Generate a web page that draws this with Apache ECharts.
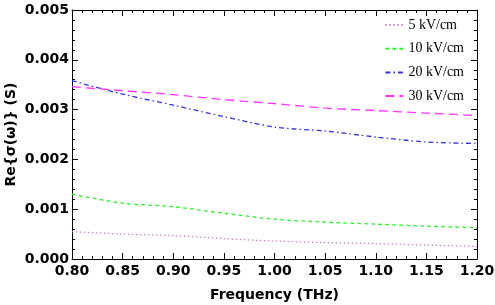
<!DOCTYPE html>
<html><head><meta charset="utf-8">
<script src="https://cdn.jsdelivr.net/npm/echarts@6/dist/echarts.min.js"></script>
<style>html,body{margin:0;padding:0;background:#fff}#c{width:495px;height:305px}</style>
</head><body><div id="c"></div>
<script>
const freq = [0.80, 0.85, 0.90, 0.95, 1.00, 1.05, 1.10, 1.15, 1.20];
const s5  = [0.00055, 0.00050, 0.00047, 0.00041, 0.00036, 0.00033, 0.00031, 0.00028, 0.00025];
const s10 = [0.00130, 0.00112, 0.00105, 0.00092, 0.00080, 0.00074, 0.00070, 0.00066, 0.00063];
const s20 = [0.00358, 0.00331, 0.00309, 0.00286, 0.00265, 0.00257, 0.00245, 0.00235, 0.00232];
const s30 = [0.00346, 0.00338, 0.00330, 0.00320, 0.00312, 0.00303, 0.00298, 0.00293, 0.00288];
const names = ['5 kV/cm', '10 kV/cm', '20 kV/cm', '30 kV/cm'];
const colors = ['#cc80cc', '#33ee33', '#3333dd', '#ff33ff'];
const dashes = [[1.5, 2.5], [4, 3], [5, 3, 1.5, 3], [9, 5]];

const chart = echarts.init(document.getElementById('c'), null, {renderer: 'canvas'});
const lbl = {fontFamily: 'DejaVu Sans', fontWeight: 'bold', fontSize: 14, color: '#000'};
function mk(arr) { return freq.map((f, i) => [f, arr[i]]); }
const all = [s5, s10, s20, s30];
const axisCommon = {
  axisLine: {show: true, onZero: false, lineStyle: {color: '#000', width: 1}},
  axisTick: {show: true, inside: true, length: 6, lineStyle: {color: '#000'}},
  minorTick: {show: true, splitNumber: 5, length: 3, lineStyle: {color: '#000'}},
  splitLine: {show: false}
};
chart.setOption({
  animation: false,
  grid: {left: 72, right: 18, top: 10, bottom: 46, containLabel: false, outerBoundsMode: 'none'},
  legend: {
    orient: 'vertical', right: 26, top: 13, itemWidth: 18, itemHeight: 14, itemGap: 9.7,
    itemStyle: {opacity: 0},
    textStyle: {fontFamily: 'Liberation Serif', fontSize: 14, color: '#000'},
    data: names
  },
  xAxis: [
    Object.assign({type: 'value', min: 0.8, max: 1.2, interval: 0.05,
      name: 'Frequency (THz)', nameLocation: 'middle', nameGap: 29, nameMoveOverlap: false,
      nameTextStyle: lbl,
      axisLabel: Object.assign({}, lbl, {margin: 5, formatter: v => v.toFixed(2)})}, axisCommon),
    Object.assign({type: 'value', min: 0.8, max: 1.2, interval: 0.05, position: 'top',
      axisLabel: {show: false}}, axisCommon)
  ],
  yAxis: [
    Object.assign({type: 'value', min: 0, max: 0.005, interval: 0.001,
      name: 'Re{σ(ω)} (S)', nameLocation: 'middle', nameGap: 54, nameMoveOverlap: false,
      nameTextStyle: lbl,
      axisLabel: Object.assign({}, lbl, {margin: 3, formatter: v => v.toFixed(3)})}, axisCommon),
    Object.assign({type: 'value', min: 0, max: 0.005, interval: 0.001, position: 'right',
      axisLabel: {show: false}}, axisCommon)
  ],
  series: all.map((arr, i) => ({
    name: names[i], type: 'line', data: mk(arr), symbol: 'none', smooth: 0.3,
    color: colors[i],
    lineStyle: {color: colors[i], width: 1.3, type: dashes[i]}
  }))
});
</script></body></html>
